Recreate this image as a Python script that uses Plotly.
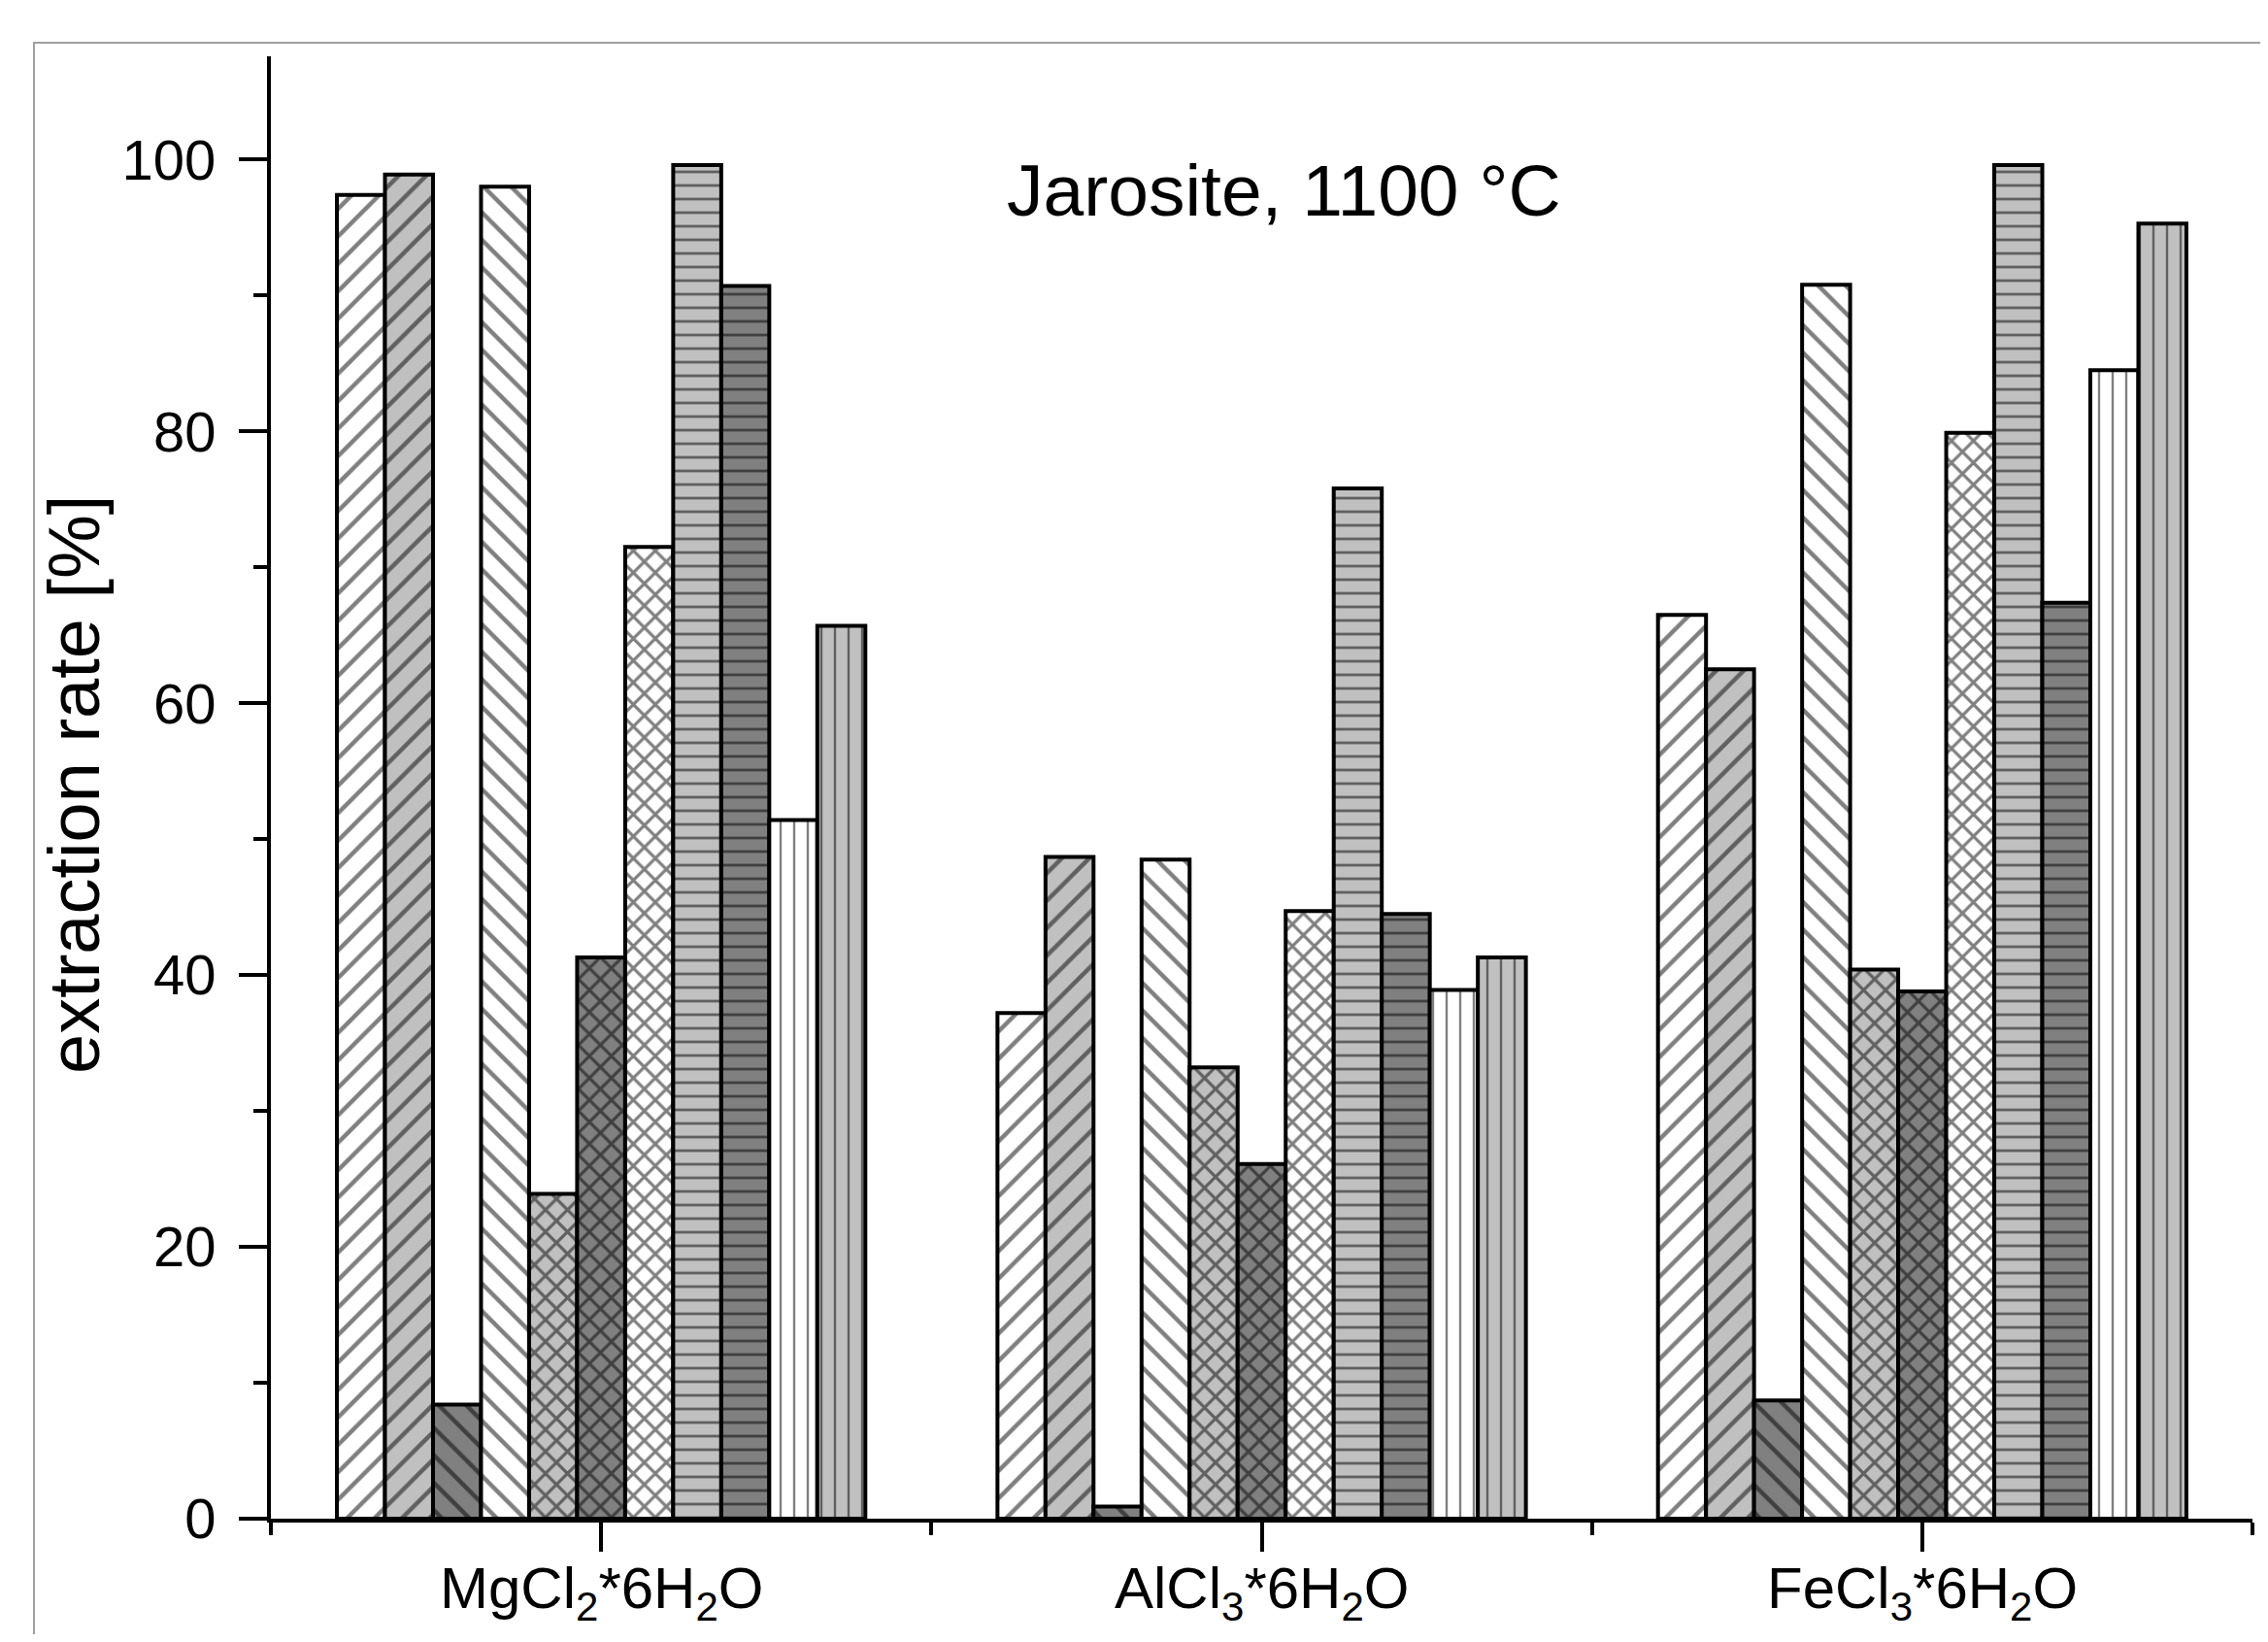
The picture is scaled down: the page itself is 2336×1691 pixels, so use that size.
import plotly.graph_objects as go

categories = ["MgCl<sub>2</sub>*6H<sub>2</sub>O", "AlCl<sub>3</sub>*6H<sub>2</sub>O", "FeCl<sub>3</sub>*6H<sub>2</sub>O"]
cat_pos = [0, 1, 2]

# 11 series, values per category [MgCl2, AlCl3, FeCl3]
series_values = [
    [97.4, 37.2, 66.5],
    [98.9, 48.7, 62.5],
    [8.4, 0.9, 8.7],
    [98.0, 48.5, 90.8],
    [23.9, 33.2, 40.4],
    [41.3, 26.1, 38.8],
    [71.5, 44.7, 79.9],
    [99.6, 75.8, 99.6],
    [90.7, 44.5, 67.4],
    [51.4, 38.9, 84.5],
    [65.7, 41.3, 95.3],
]

WHITE = "#ffffff"
LIGHT = "#c0c0c0"
DARK = "#808080"
fills = [WHITE, LIGHT, DARK, WHITE, LIGHT, DARK, WHITE, LIGHT, DARK, WHITE, LIGHT]
shapes_ = ["/", "/", "\\", "\\", "x", "x", "x", "-", "-", "|", "|"]
sizes = {"/": 20, "\\": 20, "x": 16, "-": 14, "|": 14}
solid = {"/": 0.22, "\\": 0.22, "x": 0.36, "-": 0.2, "|": 0.17}

fig = go.Figure()
for i, vals in enumerate(series_values):
    sh = shapes_[i]
    fig.add_trace(go.Bar(
        x=cat_pos, y=vals, name=f"s{i+1}",
        marker=dict(
            color=fills[i],
            line=dict(color="black", width=4),
            pattern=dict(shape=sh, size=sizes[sh], solidity=solid[sh],
                         fgcolor="black", bgcolor=fills[i], fillmode="overlay"),
        ),
        showlegend=False,
    ))

# page has an 8px body margin; figure is sized so that the page fits the window
OFF = 8
W, H = 2336 - 2 * OFF, 1691 - 2 * OFF
plot_l, plot_r, plot_t, plot_b = 279 - OFF, 2320 - OFF, 58 - OFF, 1564 - OFF
L, R, T, B = plot_l, W - plot_r, plot_t, H - plot_b
pw, ph = plot_r - plot_l, plot_b - plot_t

def px_x(px):
    return (px - OFF - plot_l) / pw

def px_y(py):
    return (plot_b - (py - OFF)) / ph

font_fam = "Liberation Sans, Arial, sans-serif"

annotations = [
    dict(text="Jarosite, 1100 °C", xref="paper", yref="paper",
         x=px_x(1322), y=px_y(196), xanchor="center", yanchor="middle",
         showarrow=False, font=dict(family=font_fam, size=75, color="black")),
    dict(text="extraction rate [%]", xref="paper", yref="paper",
         x=px_x(76), y=px_y(808), xanchor="center", yanchor="middle",
         textangle=-90, showarrow=False,
         font=dict(family=font_fam, size=74, color="black")),
]
for xv, lab in zip(cat_pos, categories):
    annotations.append(dict(
        text=lab, xref="x", yref="paper", x=xv, y=px_y(1600),
        xanchor="center", yanchor="top", showarrow=False,
        font=dict(family=font_fam, size=60, color="black")))

fig.update_layout(
    width=W, height=H,
    margin=dict(l=L, r=R, t=T, b=B, autoexpand=False),
    paper_bgcolor="white", plot_bgcolor="white",
    barmode="group", bargap=0.2, bargroupgap=0,
    xaxis=dict(
        range=[-0.5, 2.5], tickmode="array", tickvals=cat_pos, showticklabels=False,
        ticks="outside", ticklen=30, tickwidth=4, tickcolor="black",
        showline=True, linecolor="black", linewidth=4, showgrid=False, zeroline=False,
        automargin=False,
        minor=dict(tickvals=[-0.5, 0.5, 1.5, 2.5], ticks="outside", ticklen=13,
                   tickwidth=4, tickcolor="black", showgrid=False),
    ),
    yaxis=dict(
        range=[0, 107.6], tickmode="linear", tick0=0, dtick=20,
        ticks="outside", ticklen=29, tickwidth=4, tickcolor="black",
        showline=True, linecolor="black", linewidth=4, showgrid=False, zeroline=False,
        tickfont=dict(family=font_fam, size=58, color="black"),
        ticklabelstandoff=12, automargin=False,
        minor=dict(dtick=10, ticks="outside", ticklen=14, tickwidth=4,
                   tickcolor="black", showgrid=False),
    ),
    shapes=[dict(type="rect", xref="paper", yref="paper",
                 x0=px_x(35), x1=1.1, y0=-0.2, y1=px_y(44),
                 line=dict(color="#a0a0a0", width=2), fillcolor="rgba(0,0,0,0)",
                 layer="below")],
    annotations=annotations,
)

fig.write_html("out.html")
